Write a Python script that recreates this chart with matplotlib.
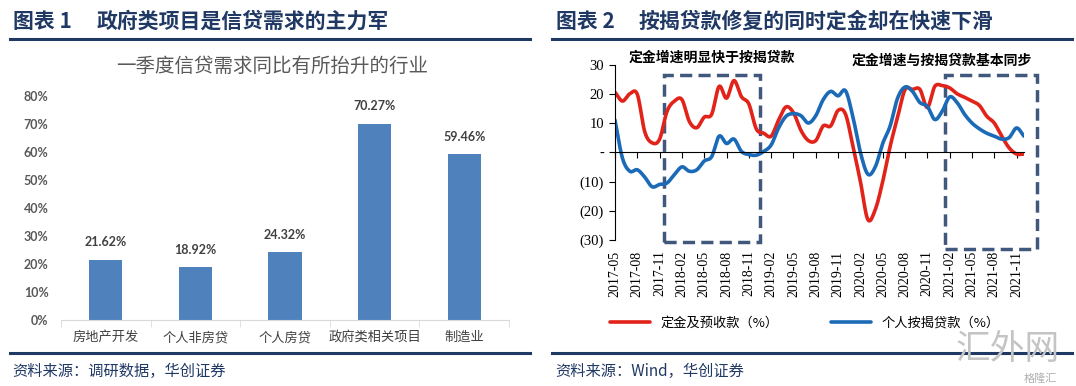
import numpy as np
import pandas as pd
import matplotlib
matplotlib.use('Agg')
import matplotlib.pyplot as plt
from matplotlib.lines import Line2D
from matplotlib.patches import Rectangle

plt.rcParams['font.family'] = ['Noto Sans CJK SC', 'DejaVu Sans']

# ---- chart 1 data ----
industries = ['房地产开发', '个人非房贷', '个人房贷', '政府类相关项目', '制造业']
share = [21.62, 18.92, 24.32, 70.27, 59.46]

# ---- chart 2 data (monthly, 2017-05 .. 2021-12) ----
months = pd.date_range('2017-05-01', periods=56, freq='MS')
deposit = [20.5, 17.5, 20.0, 19.8, 7.0, 3.2, 4.5, 14.0, 17.5, 18.0,
           10.5, 8.4, 12.0, 13.0, 22.5, 18.5, 24.5, 19.0, 16.5, 8.0,
           6.5, 5.5, 11.0, 15.5, 13.5, 7.5, 4.0, 4.0, 9.0, 9.0,
           14.3, 13.0, 2.0, -10.0, -23.0, -19.6, -10.0, 2.0, 12.0, 21.4,
           21.5, 21.5, 15.3, 22.5, 22.8, 22.0, 20.0, 18.8, 17.5, 16.0,
           12.3, 10.0, 5.5, 1.5, -0.6, -0.6]
mortgage = [11.0, -2.0, -6.5, -6.0, -8.5, -11.8, -11.0, -10.5, -7.6, -5.0,
            -6.5, -6.0, -3.0, -1.5, 5.5, 3.0, 4.5, 0.3, -0.8, -1.0,
            0.3, 2.5, 8.3, 12.3, 13.2, 12.5, 10.0, 12.5, 18.0, 20.8,
            19.3, 21.0, 12.0, 0.0, -7.5, -5.0, 3.0, 9.0, 18.5, 22.3,
            20.8, 17.0, 15.7, 11.2, 14.0, 18.9, 17.0, 13.0, 10.0, 8.0,
            6.5, 5.5, 4.5, 5.0, 8.3, 5.5]
tick_step = 3

NAVY = '#1F3864'
W, H = 1076, 386


def fx(px):
    return px / W


def fy(py):
    return 1 - py / H


def smooth(y, n=12):
    # catmull-rom, close to excel's smoothed line
    y = np.asarray(y, float)
    p = np.concatenate([[2 * y[0] - y[1]], y, [2 * y[-1] - y[-2]]])
    t = np.linspace(0, 1, n, endpoint=False)
    xs, ys = [], []
    for i in range(len(y) - 1):
        p0, p1, p2, p3 = p[i:i + 4]
        ys.append(0.5 * (2 * p1 + (-p0 + p2) * t + (2 * p0 - 5 * p1 + 4 * p2 - p3) * t ** 2
                         + (-p0 + 3 * p1 - 3 * p2 + p3) * t ** 3))
        xs.append(i + t)
    xs.append([len(y) - 1])
    ys.append([y[-1]])
    return np.concatenate(xs), np.concatenate(ys)


fig = plt.figure(figsize=(W / 100, H / 100), dpi=100)

# headers and footers
for x0, x1 in [(10, 530), (552, 1072)]:
    fig.add_artist(Line2D([fx(x0), fx(x1)], [fy(39), fy(39)], color=NAVY, lw=2.2))
    fig.add_artist(Line2D([fx(x0), fx(x1)], [fy(353), fy(353)], color=NAVY, lw=2.2))
fig.text(fx(13), fy(21), '图表 1', fontsize=15, fontweight='bold', color=NAVY, va='center')
fig.text(fx(97), fy(21), '政府类项目是信贷需求的主力军', fontsize=15, fontweight='bold',
         color=NAVY, va='center')
fig.text(fx(556), fy(21), '图表 2', fontsize=15, fontweight='bold', color=NAVY, va='center')
fig.text(fx(639), fy(21), '按揭贷款修复的同时定金却在快速下滑', fontsize=15, fontweight='bold',
         color=NAVY, va='center')
fig.text(fx(12), fy(371), '资料来源：调研数据，华创证券', fontsize=11, color=NAVY,
         va='center', style='italic')
fig.text(fx(555), fy(371), '资料来源：Wind，华创证券', fontsize=11, color=NAVY,
         va='center', style='italic')

# ---- chart 1: bars ----
ax1 = fig.add_axes([fx(61), fy(320), fx(509 - 61), (320 - 96.3) / H])
xpos = np.arange(len(industries))
bars = ax1.bar(xpos, share, width=0.37, color='#4F81BD')
ax1.set_xlim(-0.5, len(industries) - 0.5)
ax1.set_ylim(0, 80)
ax1.set_yticks(np.arange(0, 81, 10))
ax1.set_yticklabels([f'{v}%' for v in range(0, 81, 10)], fontfamily='Lato',
                    fontweight='bold', fontsize=9, color='#595959')
ax1.set_xticks(xpos)
ax1.set_xticklabels(industries, fontsize=9.5, color='#404040')
ax1.set_xticks(np.arange(-0.5, len(industries)), minor=True)
ax1.tick_params(axis='x', which='major', length=0, pad=8)
ax1.tick_params(axis='x', which='minor', length=5, color='#D9D9D9')
ax1.tick_params(axis='y', length=0, pad=9)
for s in ['top', 'right', 'left']:
    ax1.spines[s].set_visible(False)
ax1.spines['bottom'].set_color('#D9D9D9')
for b, v in zip(bars, share):
    ax1.annotate(f'{v:.2f}%', (b.get_x() + b.get_width() / 2, v), xytext=(0, 8),
                 textcoords='offset points', ha='center', va='bottom',
                 fontfamily='Lato', fontweight='bold', fontsize=9, color='#404040')
fig.text(fx(272), fy(66), '一季度信贷需求同比有所抬升的行业', fontsize=14,
         color='#595959', ha='center', va='center')

# ---- chart 2: smoothed lines ----
ax2 = fig.add_axes([fx(615), fy(240), fx(1024 - 615), (240 - 64.5) / H])
idx = np.arange(len(months))
sx, sy = smooth(deposit)
ax2.plot(sx, sy, color='#E2231A', lw=2.6, solid_capstyle='round', label='定金及预收款（%）')
sx, sy = smooth(mortgage)
ax2.plot(sx, sy, color='#1B6AB7', lw=2.6, solid_capstyle='round', label='个人按揭贷款（%）')
ax2.set_xlim(0, len(months) - 1)
ax2.set_ylim(-30, 30)
yt = np.arange(-30, 31, 10)
ax2.set_yticks(yt)
ax2.set_yticklabels(['-' if v == 0 else (f'({-v})' if v < 0 else str(v)) for v in yt],
                    fontfamily='Liberation Serif', fontsize=10.5)
ax2.tick_params(axis='y', direction='out', length=4, pad=4)
tick_idx = idx[::tick_step]
ax2.set_xticks(tick_idx)
ax2.tick_params(axis='x', direction='out', length=4, labelbottom=False)
ax2.spines['bottom'].set_position(('data', 0))
for s in ['top', 'right']:
    ax2.spines[s].set_visible(False)
for i in tick_idx:
    ax2.text(i, -0.06, months[i].strftime('%Y-%m'), transform=ax2.get_xaxis_transform(),
             rotation=90, ha='center', va='top', fontfamily='Liberation Serif', fontsize=10)

box_kw = dict(fill=False, ec='#41587D', lw=2.5, ls=(0, (3.5, 1.8)), clip_on=False)
ax2.add_patch(Rectangle((6.6, -30.7), 19.5 - 6.6, 26.5 + 30.7, **box_kw))
ax2.add_patch(Rectangle((44.4, -33), 56.7 - 44.4, 26.5 + 33, **box_kw))
fig.text(fx(712), fy(58), '定金增速明显快于按揭贷款', fontsize=10, fontweight='bold',
         ha='center', va='center')
fig.text(fx(942), fy(61), '定金增速与按揭贷款基本同步', fontsize=10, fontweight='bold',
         ha='center', va='center')

fig.legend(*ax2.get_legend_handles_labels(), loc='center', bbox_to_anchor=(fx(805), fy(323)),
           ncol=2, frameon=False, handlelength=3, columnspacing=4, fontsize=9.5)

# watermark
fig.text(fx(1008), fy(350), '汇外网', fontsize=25, color='#C4C4C4', ha='center', va='center')
fig.text(fx(1040), fy(379), '格隆汇', fontsize=8, color='#B0B0B0', ha='center', va='center')

fig.savefig('out.png', dpi=100)
